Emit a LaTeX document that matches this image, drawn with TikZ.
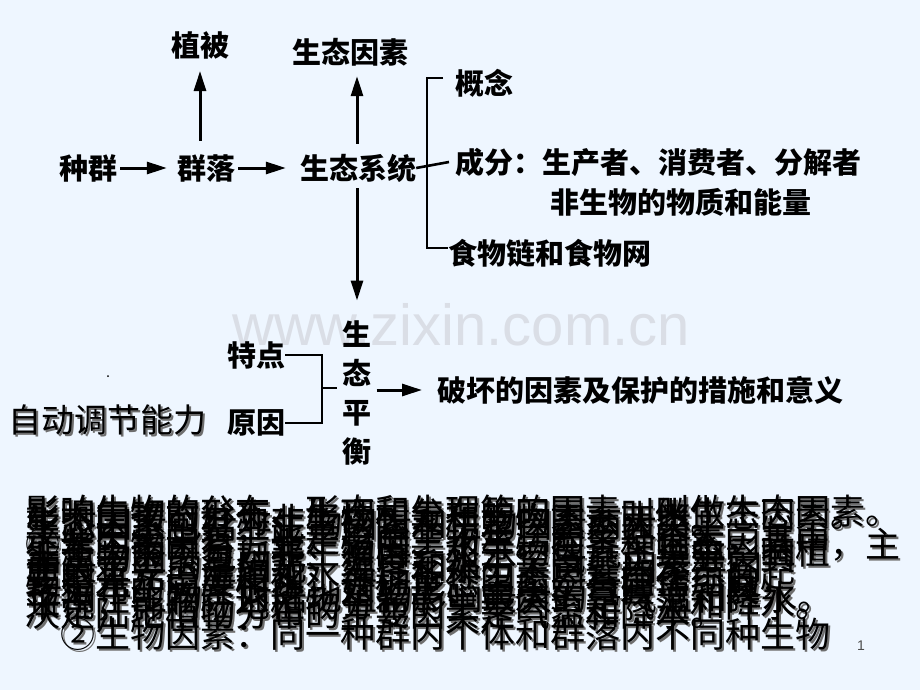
\documentclass[tikz,border=0pt]{standalone}
\usepackage{fontspec}
\setmainfont{Liberation Sans}
\newfontfamily\cjk{Noto Sans CJK SC}
\usetikzlibrary{arrows.meta}
\definecolor{bg}{RGB}{238,246,255}
\definecolor{wm}{RGB}{218,222,230}
\definecolor{shad}{RGB}{110,110,110}
\tikzset{
  txt/.style={font=\cjk\bfseries\fontsize{29}{29}\selectfont, inner sep=0pt, text=black},
  big/.style={font=\cjk\fontsize{33}{33}\selectfont, inner sep=0pt, text=black},
  para/.style={font=\cjk\fontsize{35}{35}\selectfont, inner sep=0pt, anchor=west, text=black},
  parashad/.style={para, text=shad},
  arr/.style={line width=3pt, -{Triangle[length=20pt,width=12pt]}},
  brk/.style={line width=2.6pt},
}
\begin{document}
\begin{tikzpicture}[x=1pt,y=-1pt]
\useasboundingbox (0,0) rectangle (920,690);
\fill[bg] (0,0) rectangle (920,690);
% watermark
\node[font=\fontsize{58}{58}\selectfont, text=wm, anchor=base west, inner sep=0pt] (wmk) at (232,345) {www.zixin.com.cn};
% top chain
\node[txt] (zq) at (88,168) {种群};
\node[txt] (ql) at (206,168) {群落};
\node[txt] (st) at (358,168) {生态系统};
\node[txt] (zb) at (200,45) {植被};
\node[txt] (ys) at (350,52) {生态因素};
\coordinate (stu) at ([xshift=-1pt,yshift=10pt]st.north);
\coordinate (std) at ([xshift=-1pt,yshift=-6pt]st.south);
\draw[arr] ([xshift=3pt]zq.east) -- ([xshift=-10pt]ql.west);
\draw[arr] ([xshift=3pt]ql.east) -- ([xshift=-14pt]st.west);
\draw[arr] ([xshift=-6pt,yshift=13pt]ql.north) -- ([xshift=0pt,yshift=-12pt]zb.south);
\draw[arr] (stu) -- ([yshift=-10pt]stu |- ys.south);
% bracket
\node[txt, anchor=west] (gn) at (455,83) {概念};
\node[txt, anchor=west] (cf) at (455,162) {成分：生产者、消费者、分解者};
\node[txt, anchor=west] (fs) at (550,202) {非生物的物质和能量};
\node[txt, anchor=west] (sw) at (448,253) {食物链和食物网};
\coordinate (bt) at (427,78);
\coordinate (bb) at (427,248);
\draw[brk] ([xshift=-12pt]gn.west |- bt) -- (bt) -- (bb) -- (sw.west |- bb);
\draw[brk] (st.east) -- ([xshift=-6pt]cf.west);
% ecological balance
\node[txt, align=center] (ph) at (357,393) {生\\[10pt]态\\[10pt]平\\[10pt]衡};
\draw[arr] (std) -- ([yshift=20pt]std |- ph.north);
\node[txt] (td) at (256,355) {特点};
\node[txt] (yy) at (256,423) {原因};
\coordinate (pv) at (322,388);
\draw[brk] (td.east) -| (pv) |- (yy.east);
\draw[brk] (pv) -- ([xshift=-5pt]ph.west |- pv);
\node[txt, anchor=west] (ph2) at (437,390) {破坏的因素及保护的措施和意义};
\draw[arr] ([xshift=5pt]ph.east |- ph2) -- ([xshift=-15pt]ph2.west);
\node[big, text=shad, anchor=west] at (10,422) {自动调节能力};
\node[big, anchor=west] (zd) at (8,420) {自动调节能力};
\fill (108,376) circle (1pt);
% overlapping paragraph block
\foreach \dx/\dy/\st in {2/2/parashad, 0/0/para}{
  \node[\st] at (25+\dx,512+\dy) {影响生物的分布、形态和生理等的因素，叫做生态因素。};
  \node[\st] at (25+\dx,515+\dy) {影响生物的形态、生理和分布的因素，叫做生态因素。};
  \node[\st] at (25+\dx,520+\dy) {生态因素可分为非生物因素和生物因素两类。};
  \node[\st] at (27+\dx,524+\dy) {生态因素包括非生物因素和生物因素两大类。};
  \node[\st] at (25+\dx,545+\dy) {①非生物因素：光、温度、水等。在各种生态因素中，主};
  \node[\st] at (25+\dx,552+\dy) {生态因素可分为非生物因素和生物因素，其中影响植};
  \node[\st] at (25+\dx,540+\dy) {这些因素中有一些是影响生物生活的主要因素，其中};
  \node[\st] at (26+\dx,558+\dy) {非生物因素包括光、温度、水、空气、土壤等，其};
  \node[\st] at (25+\dx,582+\dy) {要是光、温度和水，各种生态因素是共同作用的，};
  \node[\st] at (25+\dx,575+\dy) {要的有光、温度和水等，各种生态因素都在综合起};
  \node[\st] at (25+\dx,590+\dy) {物分布的因素很多，如地形、土壤、气候等，其};
  \node[\st] at (27+\dx,568+\dy) {中最主要的是阳光、温度和水分，这些因素共同};
  \node[\st] at (25+\dx,613+\dy) {决定陆地植物分布的主要因素是气温和降水。};
  \node[\st] at (25+\dx,605+\dy) {来说，影响陆地植物分布的主要因素是气温和降水。};
  \node[\st] at (27+\dx,598+\dy) {作用于生物，对陆地植物影响最大的是气温和降水。};
  \node[\st] at (60+\dx,634+\dy) {②生物因素：同一种群内个体和群落内不同种生物};
}
\node[font=\fontsize{14}{14}\selectfont, text=black!70, inner sep=0pt] (pg) at (861,646) {1};
\end{tikzpicture}
\end{document}
